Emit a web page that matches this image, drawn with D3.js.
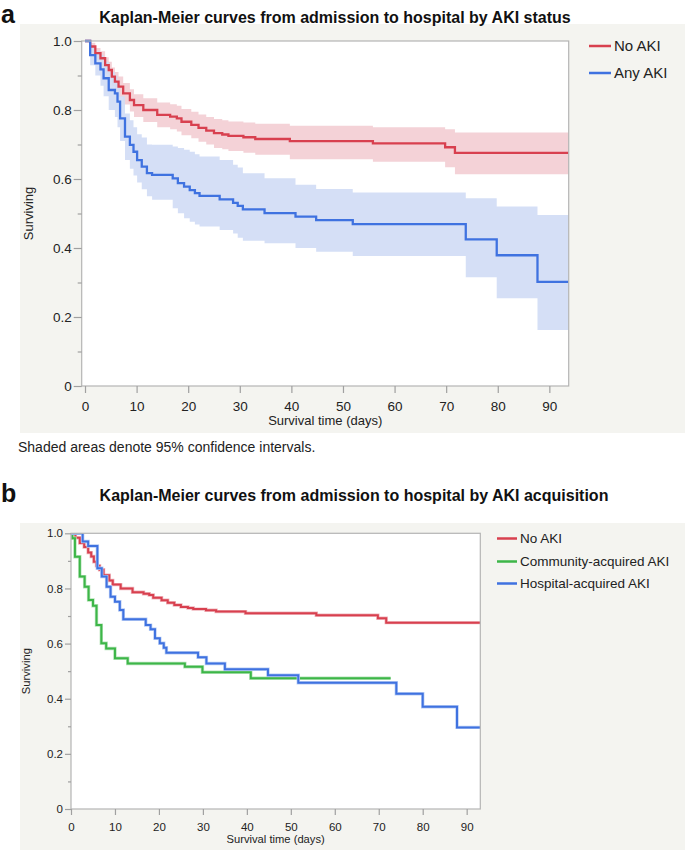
<!DOCTYPE html>
<html><head><meta charset="utf-8">
<script src="https://cdn.jsdelivr.net/npm/d3@7"></script>
<style>
body{margin:0;background:#fff;}
svg{display:block;font-family:"Liberation Sans",Arial,Helvetica,sans-serif;}
</style>
</head><body>
<svg id="chart" width="685" height="850"></svg>
<script>
// ---------- DATA ----------
const xTickValues = [0, 10, 20, 30, 40, 50, 60, 70, 80, 90];
const yTickValues = [0, 0.2, 0.4, 0.6, 0.8, 1.0];
const yTickLabels = ["0", "0.2", "0.4", "0.6", "0.8", "1.0"];
const yMinorTicks = [0.1, 0.3, 0.5, 0.7, 0.9];

// No AKI (Kaplan-Meier step curve with 95% CI)
const noAkiTime  = [0, 1, 2, 3, 3.9, 4.6, 5.2, 5.8, 6.5, 7.4, 8.7, 9.5, 11.3, 14, 16.5, 17.8, 18.7, 20.6, 22, 23.5, 25, 26.6, 27.8, 30.7, 33, 39.7, 55.8, 69.8, 71.7];
const noAkiSurv  = [1, 0.984, 0.965, 0.950, 0.930, 0.916, 0.897, 0.882, 0.868, 0.848, 0.829, 0.814, 0.800, 0.786, 0.781, 0.776, 0.766, 0.757, 0.748, 0.740, 0.733, 0.729, 0.725, 0.721, 0.716, 0.710, 0.703, 0.692, 0.676];
const noAkiUpper = [1, 0.995, 0.980, 0.970, 0.953, 0.940, 0.923, 0.910, 0.897, 0.878, 0.860, 0.846, 0.834, 0.822, 0.817, 0.812, 0.803, 0.795, 0.787, 0.780, 0.774, 0.770, 0.767, 0.764, 0.760, 0.754, 0.750, 0.744, 0.735];
const noAkiLower = [1, 0.965, 0.945, 0.928, 0.905, 0.890, 0.870, 0.853, 0.838, 0.816, 0.796, 0.780, 0.765, 0.750, 0.744, 0.738, 0.727, 0.718, 0.708, 0.700, 0.690, 0.686, 0.681, 0.676, 0.670, 0.657, 0.650, 0.634, 0.614];

// Any AKI
const anyAkiTime  = [0, 1, 2, 3, 3.6, 4.6, 5.8, 6.3, 6.8, 7.75, 8.7, 9.4, 10.1, 11, 12, 13, 17, 18, 19.2, 20.3, 21.3, 22.2, 26.1, 28.7, 29.6, 30.6, 34.8, 40.8, 44.8, 51.9, 73.8, 79.8, 87.7];
const anyAkiSurv  = [1, 0.959, 0.935, 0.918, 0.892, 0.858, 0.848, 0.824, 0.776, 0.723, 0.699, 0.679, 0.655, 0.636, 0.617, 0.612, 0.602, 0.588, 0.578, 0.568, 0.559, 0.551, 0.541, 0.531, 0.522, 0.512, 0.501, 0.491, 0.481, 0.469, 0.425, 0.379, 0.302];
const anyAkiUpper = [1, 0.985, 0.970, 0.960, 0.940, 0.910, 0.900, 0.880, 0.840, 0.790, 0.770, 0.750, 0.730, 0.720, 0.700, 0.699, 0.694, 0.690, 0.685, 0.679, 0.672, 0.665, 0.655, 0.641, 0.633, 0.617, 0.602, 0.583, 0.571, 0.561, 0.544, 0.520, 0.496];
const anyAkiLower = [1, 0.930, 0.900, 0.870, 0.840, 0.800, 0.780, 0.750, 0.710, 0.655, 0.630, 0.610, 0.590, 0.570, 0.550, 0.540, 0.515, 0.501, 0.486, 0.476, 0.468, 0.462, 0.452, 0.442, 0.430, 0.421, 0.414, 0.400, 0.389, 0.377, 0.315, 0.254, 0.162];

// Community-acquired AKI
const communityTime = [0, 0.3, 0.9, 2, 3.1, 4, 5, 5.8, 6.9, 8, 10, 12.9, 25.9, 29.9, 40.9];
const communitySurv = [1, 0.982, 0.915, 0.843, 0.806, 0.758, 0.737, 0.667, 0.601, 0.582, 0.547, 0.528, 0.516, 0.496, 0.474];

// Hospital-acquired AKI
const hospitalTime = [0, 2.65, 3.9, 6.0, 7.0, 8.1, 9.0, 10.0, 11.1, 11.9, 17.0, 18.1, 19.1, 20.2, 21.1, 21.7, 28.9, 30.8, 35.0, 44.8, 51.7, 74.0, 80.0, 87.8];
const hospitalSurv = [1, 0.970, 0.954, 0.873, 0.843, 0.806, 0.770, 0.752, 0.722, 0.688, 0.667, 0.652, 0.619, 0.601, 0.585, 0.567, 0.550, 0.528, 0.507, 0.485, 0.458, 0.418, 0.371, 0.296];

// last follow-up time of each curve
const endTimeA = 93.75;
const endTimeB = 93.1;
const communityEnd = 72.7;

// ---------- DRAW ----------
const svg = d3.select("#chart");
const RED = "#d8404f", BLUE = "#3f72e0", GREEN = "#3db648";
const RED_BAND = "#f4d2d7", BLUE_BAND = "#d0dcf5";
const PANEL_BG = "#f4f4f0";

function pts(times, vals, end) {
  const p = times.map((t, i) => [t, vals[i]]);
  p.push([end, vals[vals.length - 1]]);
  return p;
}
function bandPts(times, lo, hi, end) {
  const p = times.map((t, i) => [t, lo[i], hi[i]]);
  p.push([end, lo[lo.length - 1], hi[hi.length - 1]]);
  return p;
}

function drawPanel(o) {
  const g = svg.append("g");
  g.append("rect").attr("x", o.bg[0]).attr("y", o.bg[1]).attr("width", o.bg[2]).attr("height", o.bg[3]).attr("fill", PANEL_BG);
  const x = d3.scaleLinear().domain(o.xDomain).range([o.left, o.right]);
  const y = d3.scaleLinear().domain([0, 1]).range([o.bottom, o.top]);
  g.append("rect").attr("x", o.left).attr("y", o.top).attr("width", o.right - o.left).attr("height", o.bottom - o.top).attr("fill", "#fff");

  const clipId = "clip" + o.id;
  svg.append("clipPath").attr("id", clipId).append("rect")
    .attr("x", o.left).attr("y", o.top - o.clipPad).attr("width", o.right - o.left).attr("height", o.bottom - o.top + o.clipPad);
  const plot = g.append("g").attr("clip-path", `url(#${clipId})`);

  const area = d3.area().x(d => x(d[0])).y0(d => y(d[1])).y1(d => y(d[2])).curve(d3.curveStepAfter);
  const line = d3.line().x(d => x(d[0])).y(d => y(d[1])).curve(d3.curveStepAfter);

  (o.bands || []).forEach(b => {
    plot.append("path").attr("d", area(b.data)).attr("fill", b.color).attr("opacity", b.opacity || 1);
  });
  (o.lines || []).forEach(l => {
    if (o.halo) plot.append("path").attr("d", line(l.data)).attr("fill", "none").attr("stroke", l.halo).attr("stroke-width", 3.4);
    plot.append("path").attr("d", line(l.data)).attr("fill", "none").attr("stroke", l.color).attr("stroke-width", o.lw);
  });

  // frame
  g.append("rect").attr("x", o.left).attr("y", o.top).attr("width", o.right - o.left).attr("height", o.bottom - o.top)
    .attr("fill", "none").attr("stroke", "#b4b4b4").attr("stroke-width", 1.2);

  // axes
  const xa = g.append("g").attr("transform", `translate(0,${o.bottom})`)
    .call(d3.axisBottom(x).tickValues(xTickValues).tickFormat(d3.format("d")).tickSize(o.xTick).tickSizeOuter(0).tickPadding(o.xPad));
  const ya = g.append("g").attr("transform", `translate(${o.left},0)`)
    .call(d3.axisLeft(y).tickValues(yTickValues).tickFormat((d, i) => yTickLabels[i]).tickSize(o.yTick).tickSizeOuter(0).tickPadding(2));
  const ym = g.append("g").attr("transform", `translate(${o.left},0)`)
    .call(d3.axisLeft(y).tickValues(yMinorTicks).tickFormat("").tickSize(o.yTick / 2).tickSizeOuter(0));
  [xa, ya, ym].forEach(a => {
    a.select(".domain").remove();
    a.selectAll("line").attr("stroke", "#a0a0a0").attr("stroke-width", 1.2);
    a.selectAll("text").attr("fill", "#222").attr("font-size", o.tickFont).attr("font-family", "Liberation Sans, Arial, sans-serif");
  });

  g.append("text").attr("x", (o.left + o.right) / 2).attr("y", o.xTitleY).attr("text-anchor", "middle")
    .attr("font-size", o.axisFont).attr("fill", "#222").text("Survival time (days)");
  g.append("text").attr("transform", `translate(${o.yTitleX},${(o.top + o.bottom) / 2}) rotate(-90)`)
    .attr("text-anchor", "middle").attr("font-size", o.axisFont).attr("fill", "#222").text("Surviving");

  // panel letter and title
  svg.append("text").attr("x", 1).attr("y", o.letterY).attr("font-size", 25).attr("font-weight", "bold").attr("fill", "#111").text(o.letter);
  svg.append("text").attr("x", o.titleX).attr("y", o.titleY).attr("text-anchor", "middle").attr("font-size", 16)
    .attr("font-weight", "bold").attr("fill", "#111").text(o.title);

  // legend
  o.legend.forEach((l, i) => {
    const ly = o.legY[i];
    g.append("line").attr("x1", o.legX).attr("x2", o.legX + o.legLen).attr("y1", ly).attr("y2", ly)
      .attr("stroke", l.color).attr("stroke-width", 2.5);
    g.append("text").attr("x", o.legX + o.legLen + 3).attr("y", ly).attr("dy", "0.35em")
      .attr("font-size", o.legFont).attr("fill", "#222").text(l.label);
  });
}

drawPanel({
  id: "a", bg: [20, 24, 665, 409], xDomain: [-0.64, 93.75],
  left: 81.7, right: 568.7, top: 41, bottom: 386, clipPad: 2,
  bands: [
    {data: bandPts(noAkiTime, noAkiLower, noAkiUpper, endTimeA), color: RED_BAND},
    {data: bandPts(anyAkiTime, anyAkiLower, anyAkiUpper, endTimeA), color: BLUE_BAND, opacity: 0.9}
  ],
  lines: [
    {data: pts(noAkiTime, noAkiSurv, endTimeA), color: RED},
    {data: pts(anyAkiTime, anyAkiSurv, endTimeA), color: BLUE}
  ],
  lw: 2.3, xTick: 7, yTick: 8, xPad: 8, tickFont: "13.5px", axisFont: "13px",
  xTitleY: 425, yTitleX: 33,
  letter: "a", letterY: 23, title: "Kaplan-Meier curves from admission to hospital by AKI status", titleX: 335, titleY: 23,
  legend: [{label: "No AKI", color: RED}, {label: "Any AKI", color: BLUE}],
  legX: 589, legLen: 22, legY: [46, 73], legFont: "15px"
});

svg.append("text").attr("x", 18).attr("y", 452).attr("font-size", 14).attr("fill", "#222")
  .text("Shaded areas denote 95% confidence intervals.");

drawPanel({
  id: "b", bg: [20, 523, 665, 327], xDomain: [0, endTimeB],
  left: 71, right: 480.3, top: 533.3, bottom: 809, clipPad: 0,
  bands: [],
  halo: true,
  lines: [
    {data: pts(noAkiTime, noAkiSurv, endTimeB), color: RED, halo: "#f0b8bf"},
    {data: pts(communityTime, communitySurv, communityEnd), color: GREEN, halo: "#b5e3b9"},
    {data: pts(hospitalTime, hospitalSurv, endTimeB), color: BLUE, halo: "#b9cdf5"}
  ],
  lw: 2, xTick: 6, yTick: 6, xPad: 8, tickFont: "11.5px", axisFont: "11.2px",
  xTitleY: 843, yTitleX: 30,
  letter: "b", letterY: 502, title: "Kaplan-Meier curves from admission to hospital by AKI acquisition", titleX: 354, titleY: 501,
  legend: [{label: "No AKI", color: RED}, {label: "Community-acquired AKI", color: GREEN}, {label: "Hospital-acquired AKI", color: BLUE}],
  legX: 497, legLen: 20, legY: [538.5, 561.5, 583.5], legFont: "13.5px"
});
</script>
</body></html>
